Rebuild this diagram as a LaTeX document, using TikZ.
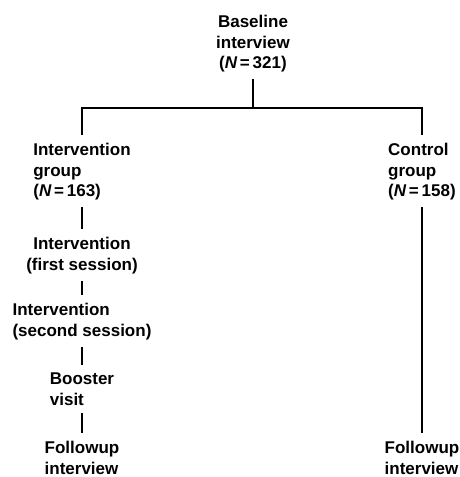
\documentclass[tikz,border=0pt]{standalone}
\usepackage{fontspec}
\setmainfont{Liberation Sans}
\begin{document}
\begin{tikzpicture}[x=1pt,y=-1pt,
    stage/.style={font=\bfseries\fontsize{17}{20.5}\selectfont, inner xsep=0pt, inner ysep=4pt, anchor=north},
    link/.style={line width=1.4pt, shorten <=3pt, shorten >=4pt}]
        \useasboundingbox (0,0) rectangle (459,477);
        % top of the tree
        \node[stage, align=center] (base) at (253,11) {Baseline\\interview\\({\itshape N}\,=\,321)};
        \coordinate (bar) at (253,108);
        % intervention branch
        \node[stage, align=left] (ig) at (82,139) {Intervention\\group\\({\itshape N}\,=\,163)};
        \node[stage, align=center] (first) at (82,233) {Intervention\\(first session)};
        \node[stage, align=left] (second) at (82,299) {Intervention\\(second session)};
        \node[stage, align=left] (boost) at (82,369) {Booster\\visit};
        \node[stage, align=left] (followi) at (82,437) {Followup\\interview};
        % control branch
        \node[stage, align=left] (cg) at (422,139) {Control\\group\\({\itshape N}\,=\,158)};
        \node[stage, align=left] (followc) at (422,437) {Followup\\interview};
            \draw[line width=1.4pt, shorten <=3pt] (base.south) -- (bar) ;
            \draw[line width=1.4pt, shorten >=4pt] (bar) -| (ig.north) ;
            \draw[line width=1.4pt, shorten >=4pt] (bar) -| (cg.north) ;
            \draw[link] (ig.south) -- (first.north) ;
            \draw[link] (first.south) -- (second.north -| first.south) ;
            \draw[link] (second.south -| first.south) -- (boost.north) ;
            \draw[link] (boost.south) -- (followi.north) ;
            \draw[link] (cg.south) -- (followc.north) ;
\end{tikzpicture}
\end{document}
